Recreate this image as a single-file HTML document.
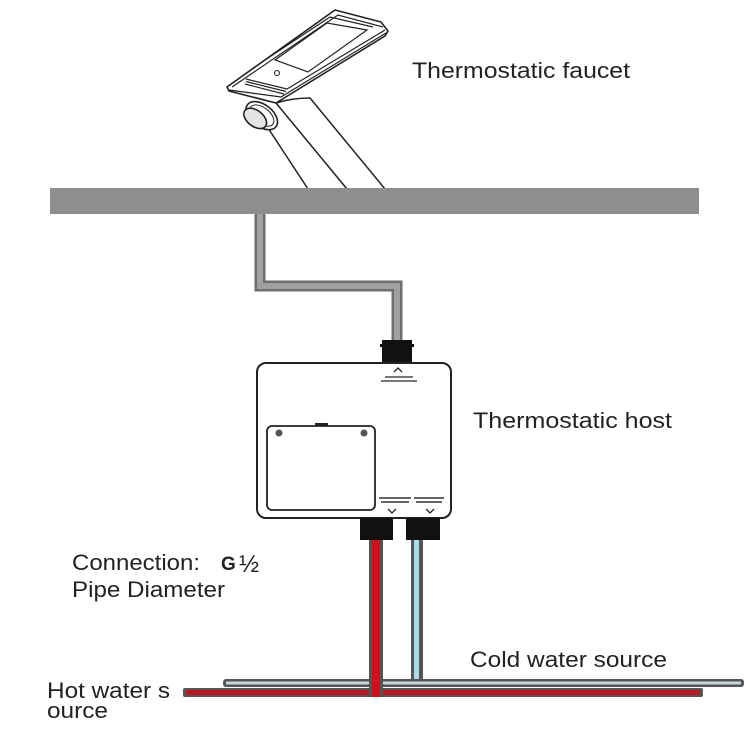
<!DOCTYPE html>
<html><head><meta charset="utf-8"><style>
html,body{margin:0;padding:0;background:#fff;}
svg{display:block;}
text{font-family:"Liberation Sans",sans-serif;fill:#222;}
</style></head><body>
<svg width="750" height="750" viewBox="0 0 750 750" xmlns="http://www.w3.org/2000/svg">
<rect width="750" height="750" fill="#fff"/>

<!-- Faucet neck -->
<g stroke="#222" stroke-width="1.5" fill="none" stroke-linecap="round">
  <path d="M268,128 L308,189"/>
  <path d="M276,103 L347,189"/>
  <path d="M310,98 L385,189"/>
  <path d="M276,103 Q292,98 310,98"/>
</g>
<!-- Faucet head -->
<g stroke="#222" stroke-width="1.6" fill="#fff" stroke-linejoin="round">
  <path d="M227,87 L335,10 L381,22 L388,31 L385,36 L276,103 L229,91 Z"/>
</g>
<g stroke="#222" stroke-width="1.2" fill="none">
  <path d="M232,87 L338,15 L383,27"/>
  <path d="M229,90 L281,97 L386,33"/>
  <path d="M246,79 L287,89 L385,30"/>
  <path d="M246,81.5 L286,91.5"/>
  <path d="M245,84 L284,94"/>
  <path d="M275,60 L327,23 L367,30 L308,72 Z"/>
  <path d="M268,58 L330,17 L373,27"/>
</g>
<circle cx="277" cy="73" r="2.5" fill="none" stroke="#222" stroke-width="1.1"/>
<!-- knob -->
<g transform="rotate(38 261 115)">
  <ellipse cx="262" cy="115" rx="18" ry="11" fill="#fff" stroke="#222" stroke-width="1.6"/>
  <ellipse cx="262" cy="115" rx="14" ry="8" fill="none" stroke="#222" stroke-width="1"/>
</g>
<g transform="rotate(38 256 119)">
  <ellipse cx="255" cy="119" rx="13" ry="8" fill="#e4e4e4" stroke="#222" stroke-width="1.6"/>
</g>

<!-- Counter bar -->
<rect x="50" y="188" width="649" height="26" fill="#8e8e8e"/>

<!-- Grey hose -->
<path d="M260,214 L260,286 L397,286 L397,342" fill="none" stroke="#6e6e6e" stroke-width="11"/>
<path d="M260,214 L260,286 L397,286 L397,342" fill="none" stroke="#a0a0a0" stroke-width="6"/>

<!-- top connector -->
<rect x="382" y="340" width="30" height="24" fill="#111"/>
<rect x="380" y="344" width="34" height="3" fill="#111"/>

<!-- Host box -->
<rect x="257" y="363" width="194" height="155" rx="9" fill="#fff" stroke="#222" stroke-width="2"/>
<path d="M394,372 L398,368 L402,372" fill="none" stroke="#222" stroke-width="1.3"/>
<rect x="385" y="376" width="28" height="2" fill="#777"/>
<rect x="381" y="380" width="36" height="2" fill="#777"/>
<!-- panel -->
<rect x="267" y="426" width="108" height="84" rx="5" fill="#fff" stroke="#222" stroke-width="1.8"/>
<rect x="315" y="423" width="13" height="3" fill="#222"/>
<circle cx="279" cy="433" r="3.5" fill="#555"/>
<circle cx="364" cy="433" r="3.5" fill="#555"/>
<!-- bottom labels -->
<rect x="379" y="497" width="32" height="2" fill="#666"/>
<rect x="381" y="501" width="28" height="2" fill="#666"/>
<rect x="414" y="497" width="30" height="2" fill="#666"/>
<rect x="416" y="501" width="26" height="2" fill="#666"/>
<path d="M388,509 L392,513 L396,509" fill="none" stroke="#222" stroke-width="1.3"/>
<path d="M426,509 L430,513 L434,509" fill="none" stroke="#222" stroke-width="1.3"/>

<!-- bottom connectors -->
<rect x="360" y="518" width="33" height="22" fill="#111"/>
<rect x="406" y="518" width="34" height="22" fill="#111"/>

<!-- cold vertical -->
<rect x="411" y="540" width="12" height="144" fill="#555"/>
<rect x="414" y="540" width="5" height="144" fill="#a9dcea"/>
<!-- cold horizontal -->
<rect x="223" y="679" width="521" height="8" rx="3" fill="#555"/>
<rect x="226" y="681.5" width="515" height="3" fill="#c4d8de"/>
<!-- hot horizontal -->
<rect x="183" y="688" width="520" height="9" rx="2" fill="#555"/>
<rect x="186" y="690" width="514" height="5" fill="#b81822"/>
<!-- hot vertical -->
<rect x="369" y="540" width="14" height="157" fill="#555"/>
<rect x="372" y="540" width="8" height="157" fill="#d0101a"/>

<!-- Labels -->
<text x="412" y="78" font-size="22" textLength="218" lengthAdjust="spacingAndGlyphs">Thermostatic faucet</text>
<text x="473" y="428" font-size="22" textLength="199" lengthAdjust="spacingAndGlyphs">Thermostatic host</text>
<text x="72" y="570" font-size="22" textLength="128" lengthAdjust="spacingAndGlyphs">Connection:</text>
<text x="221" y="570" font-size="19" font-weight="bold" fill="#333">G</text>
<text x="239" y="572" font-size="24" fill="#333">½</text>
<text x="72" y="597" font-size="22" textLength="153" lengthAdjust="spacingAndGlyphs">Pipe Diameter</text>
<text x="470" y="667" font-size="22" textLength="197" lengthAdjust="spacingAndGlyphs">Cold water source</text>
<text x="47" y="698" font-size="22" textLength="123" lengthAdjust="spacingAndGlyphs">Hot water s</text>
<text x="47" y="718" font-size="22" textLength="61" lengthAdjust="spacingAndGlyphs">ource</text>
</svg>
</body></html>
